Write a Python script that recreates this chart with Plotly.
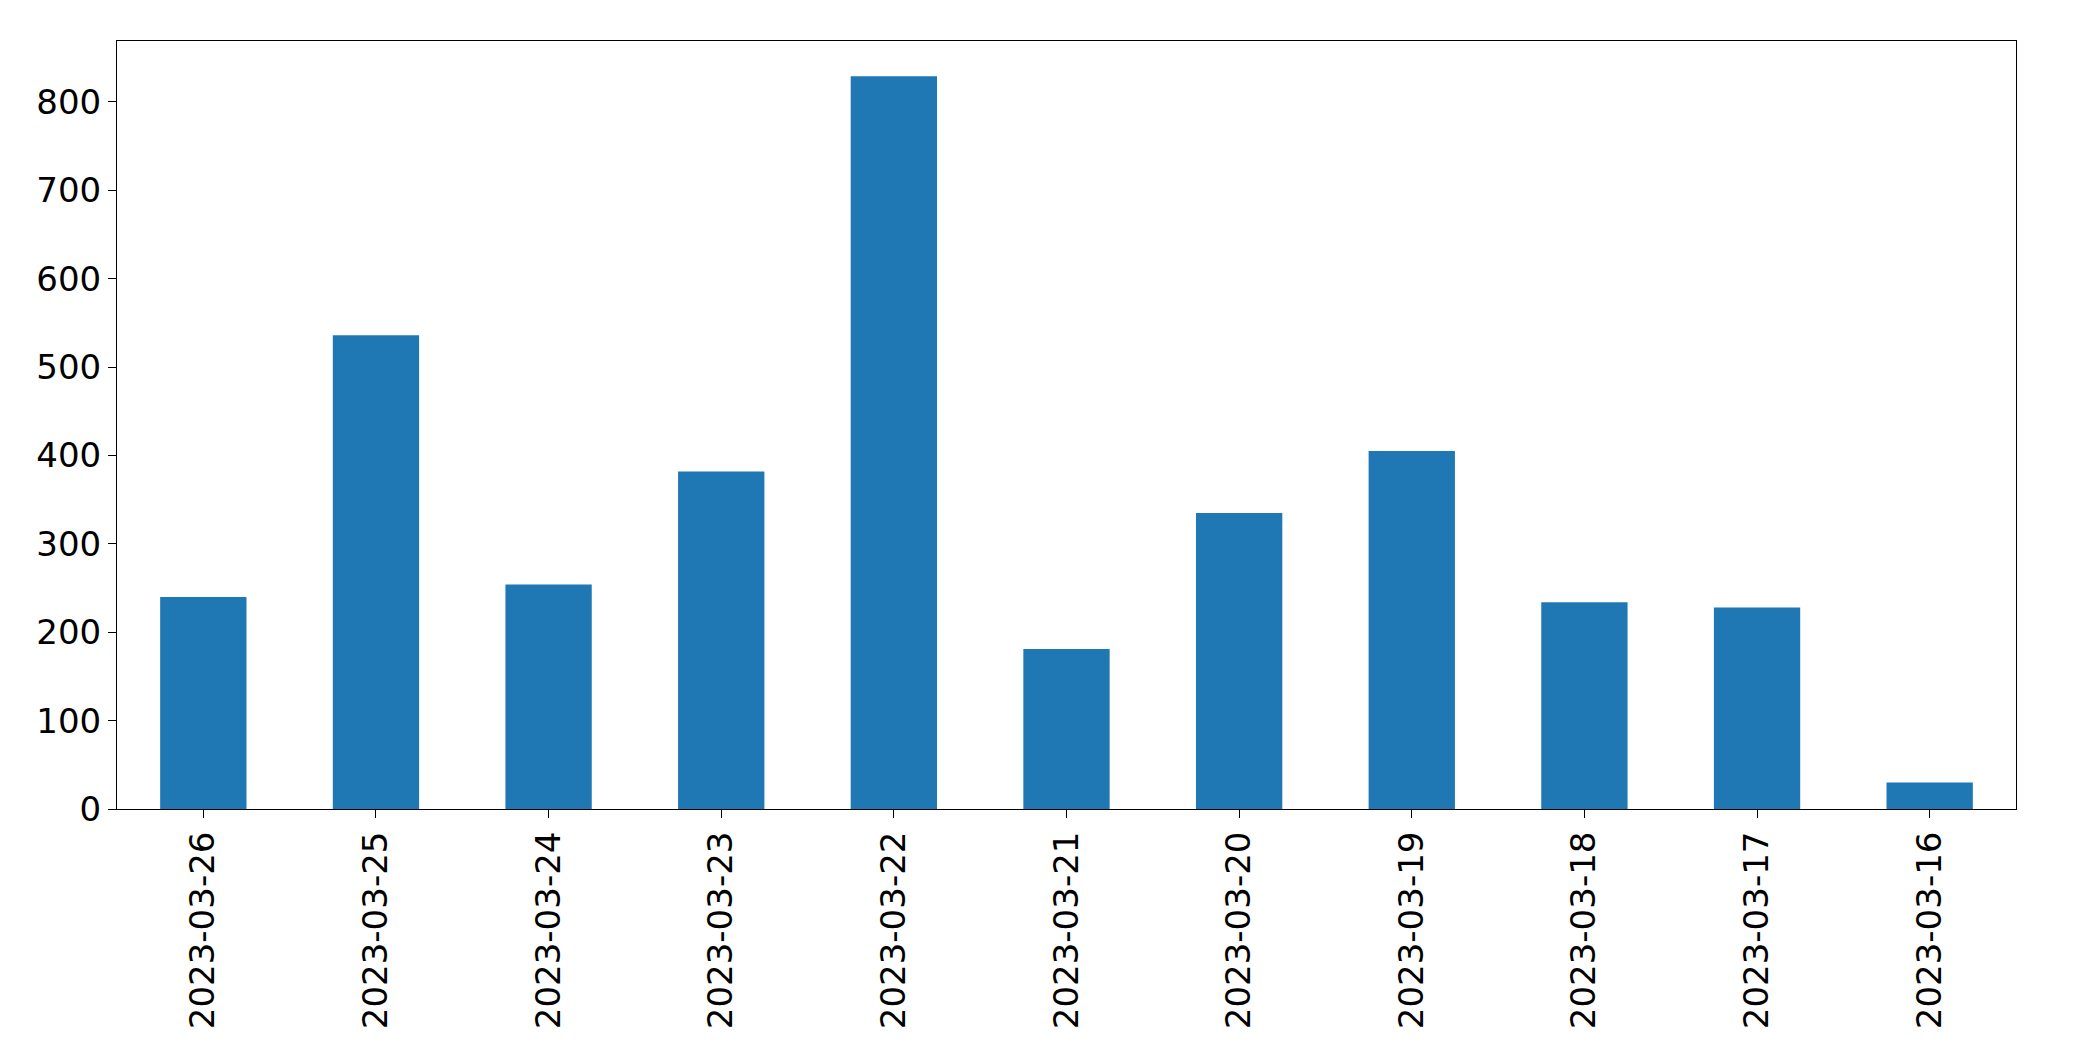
import plotly.graph_objects as go

dates = ['2023-03-26', '2023-03-25', '2023-03-24', '2023-03-23', '2023-03-22', '2023-03-21',
         '2023-03-20', '2023-03-19', '2023-03-18', '2023-03-17', '2023-03-16']
counts = [240, 536, 254, 382, 829, 181, 335, 405, 234, 228, 30]

fig = go.Figure()
fig.add_trace(go.Bar(x=dates, y=counts, width=0.5, marker_color='#1f77b4', marker_line_width=0))

fig.update_layout(
    width=2093, height=1061,
    plot_bgcolor='white', paper_bgcolor='white',
    margin=dict(l=109, r=85, t=33, b=260, autoexpand=False),
    font=dict(family='DejaVu Sans', size=34, color='black'),
    showlegend=False,
    bargap=0.5,
)
fig.update_xaxes(type='category', range=[-0.5, 10.5], tickangle=-90,
                 showline=True, linecolor='black', mirror=True, ticks='outside',
                 ticklen=8, tickcolor='black', showgrid=False)
fig.update_yaxes(range=[0, 869], tickvals=[0, 100, 200, 300, 400, 500, 600, 700, 800],
                 showline=True, linecolor='black', mirror=True, ticks='outside',
                 ticklen=8, tickcolor='black', showgrid=False, zeroline=False)

fig.write_html("out.html")
